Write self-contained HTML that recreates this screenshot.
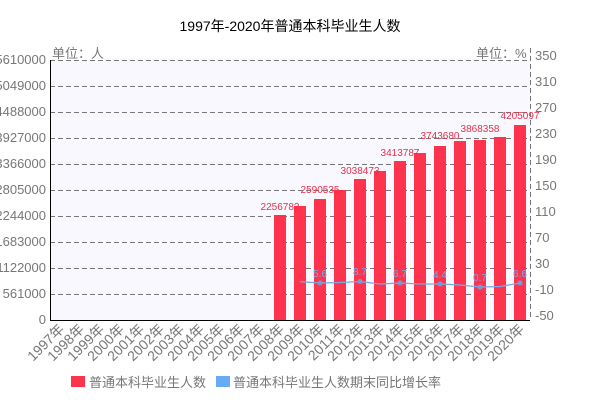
<!DOCTYPE html>
<html><head><meta charset="utf-8"><style>
body{margin:0;background:#fff;width:610px;height:406px;overflow:hidden}
svg text{font-family:"Liberation Sans","Noto Sans CJK SC",sans-serif}
</style></head><body>
<svg width="610" height="406" viewBox="0 0 610 406" xmlns="http://www.w3.org/2000/svg">
<text x="290" y="31" font-size="14" fill="#000" text-anchor="middle">1997年-2020年普通本科毕业生人数</text>
<rect x="50" y="60" width="480" height="260" fill="#f8f8fe"/>
<g stroke="#777" stroke-dasharray="5,3" stroke-width="1">
<line x1="50" y1="60.5" x2="530" y2="60.5"/><line x1="50" y1="86.5" x2="530" y2="86.5"/>
<line x1="50" y1="112.5" x2="530" y2="112.5"/><line x1="50" y1="138.5" x2="530" y2="138.5"/>
<line x1="50" y1="164.5" x2="530" y2="164.5"/><line x1="50" y1="190.5" x2="530" y2="190.5"/>
<line x1="50" y1="216.5" x2="530" y2="216.5"/><line x1="50" y1="242.5" x2="530" y2="242.5"/>
<line x1="50" y1="268.5" x2="530" y2="268.5"/><line x1="50" y1="294.5" x2="530" y2="294.5"/>
<line x1="530.5" y1="48" x2="530.5" y2="320"/>
</g>
<line x1="50.5" y1="60" x2="50.5" y2="320" stroke="#000"/>
<line x1="50" y1="320.5" x2="530" y2="320.5" stroke="#000"/>
<g font-size="13" fill="#777" text-anchor="end">
<text x="46" y="64">5610000</text><text x="46" y="90">5049000</text><text x="46" y="116">4488000</text>
<text x="46" y="142">3927000</text><text x="46" y="168">3366000</text><text x="46" y="194">2805000</text>
<text x="46" y="220">2244000</text><text x="46" y="246">1683000</text><text x="46" y="272">1122000</text>
<text x="46" y="298">561000</text><text x="46" y="324">0</text>
</g>
<g font-size="13" fill="#777">
<text x="535" y="60">350</text><text x="535" y="86">310</text><text x="535" y="112">270</text>
<text x="535" y="138">230</text><text x="535" y="164">190</text><text x="535" y="190">150</text>
<text x="535" y="216">110</text><text x="535" y="242">70</text><text x="535" y="268">30</text>
<text x="535" y="294">-10</text><text x="535" y="320">-50</text>
<text x="52" y="58">单位：人</text><text x="476" y="58">单位：%</text>
</g>
<g fill="#fe344e">
<rect x="274" y="215" width="12" height="105"/><rect x="294" y="206" width="12" height="114"/>
<rect x="314" y="199" width="12" height="121"/><rect x="334" y="190" width="12" height="130"/>
<rect x="354" y="179" width="12" height="141"/><rect x="374" y="171" width="12" height="149"/>
<rect x="394" y="161" width="12" height="159"/><rect x="414" y="153" width="12" height="167"/>
<rect x="434" y="146" width="12" height="174"/><rect x="454" y="141" width="12" height="179"/>
<rect x="474" y="140" width="12" height="180"/><rect x="494" y="137" width="12" height="183"/>
<rect x="514" y="125" width="12" height="195"/>
</g>
<g font-size="10" fill="#e8304a" text-anchor="middle">
<text x="280" y="210">2256782</text><text x="320" y="193">2590535</text><text x="360" y="174">3038473</text>
<text x="400" y="156">3413787</text><text x="440" y="139">3743680</text><text x="480" y="132">3868358</text>
<text x="520" y="119">4205097</text>
</g>
<polyline points="300,281.7 320,283 340,282.5 360,281.5 380,284 400,283 420,284 440,284 460,285 480,287 500,286.5 520,283" fill="none" stroke="#7aa9e8" stroke-width="1.3"/>
<g fill="#6f9ee0"><circle cx="320" cy="283" r="2.5"/><circle cx="360" cy="281.5" r="2.5"/><circle cx="400" cy="283" r="2.5"/><circle cx="440" cy="284" r="2.5"/><circle cx="480" cy="287" r="2.5"/><circle cx="520" cy="283" r="2.5"/></g>
<g font-size="10" fill="#7aa9e8" text-anchor="middle">
<text x="320" y="277">5.6</text><text x="360" y="275">8.7</text><text x="400" y="277">6.7</text>
<text x="440" y="278">4.4</text><text x="480" y="281">0.7</text><text x="520" y="277">6.6</text>
</g>
<g font-size="14" fill="#777" text-anchor="end">
<text transform="translate(65,330) rotate(-45)">1997年</text><text transform="translate(85,330) rotate(-45)">1998年</text>
<text transform="translate(105,330) rotate(-45)">1999年</text><text transform="translate(125,330) rotate(-45)">2000年</text>
<text transform="translate(145,330) rotate(-45)">2001年</text><text transform="translate(165,330) rotate(-45)">2002年</text>
<text transform="translate(185,330) rotate(-45)">2003年</text><text transform="translate(205,330) rotate(-45)">2004年</text>
<text transform="translate(225,330) rotate(-45)">2005年</text><text transform="translate(245,330) rotate(-45)">2006年</text>
<text transform="translate(265,330) rotate(-45)">2007年</text><text transform="translate(285,330) rotate(-45)">2008年</text>
<text transform="translate(305,330) rotate(-45)">2009年</text><text transform="translate(325,330) rotate(-45)">2010年</text>
<text transform="translate(345,330) rotate(-45)">2011年</text><text transform="translate(365,330) rotate(-45)">2012年</text>
<text transform="translate(385,330) rotate(-45)">2013年</text><text transform="translate(405,330) rotate(-45)">2014年</text>
<text transform="translate(425,330) rotate(-45)">2015年</text><text transform="translate(445,330) rotate(-45)">2016年</text>
<text transform="translate(465,330) rotate(-45)">2017年</text><text transform="translate(485,330) rotate(-45)">2018年</text>
<text transform="translate(505,330) rotate(-45)">2019年</text><text transform="translate(525,330) rotate(-45)">2020年</text>
</g>
<rect x="71" y="376" width="14" height="11" fill="#fe344e"/>
<text x="89" y="387" font-size="13" fill="#777">普通本科毕业生人数</text>
<rect x="216" y="376" width="14" height="11" fill="#67aaf5"/>
<text x="233" y="387" font-size="13" fill="#777">普通本科毕业生人数期末同比增长率</text>
</svg>
</body></html>
